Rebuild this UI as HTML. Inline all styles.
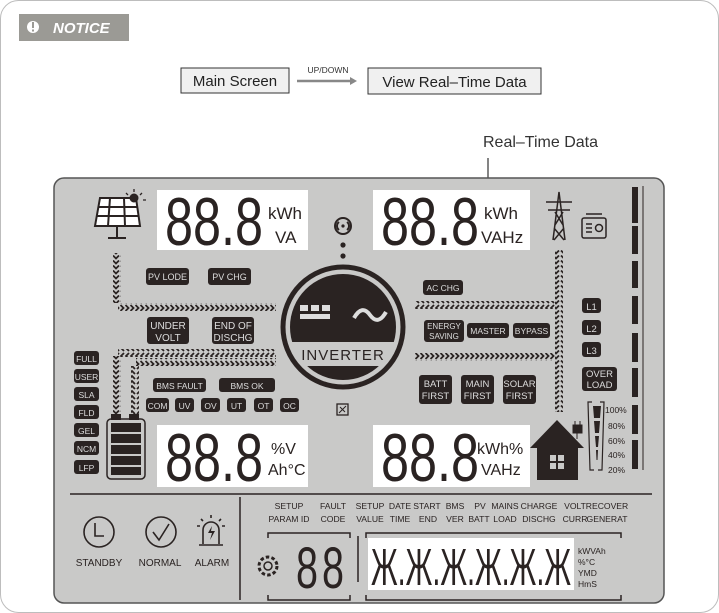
<!DOCTYPE html>
<html><head><meta charset="utf-8"><style>
html,body{margin:0;padding:0;background:#fff;}
svg{display:block;font-family:"Liberation Sans",sans-serif;}
</style></head><body>
<svg width="719" height="613" viewBox="0 0 719 613" xmlns="http://www.w3.org/2000/svg">
<defs>
<pattern id="chR" width="5" height="8" patternUnits="userSpaceOnUse"><path d="M0.5,1 L3.5,4 L0.5,7" fill="none" stroke="#2a2322" stroke-width="1.8"/></pattern>
<pattern id="chL" width="5" height="8" patternUnits="userSpaceOnUse"><path d="M4,1 L1,4 L4,7" fill="none" stroke="#2a2322" stroke-width="1.8"/></pattern>
<pattern id="chD" width="8" height="5" patternUnits="userSpaceOnUse"><path d="M1,0.5 L4,3.5 L7,0.5" fill="none" stroke="#2a2322" stroke-width="1.8"/></pattern>
<pattern id="chU" width="8" height="5" patternUnits="userSpaceOnUse"><path d="M1,4 L4,1 L7,4" fill="none" stroke="#2a2322" stroke-width="1.8"/></pattern>
</defs>
<rect x="0.5" y="0.5" width="718" height="612" rx="18" fill="#fff" stroke="#bdbdbd"/>
<rect x="19" y="14" width="110" height="27" fill="#9b9a95"/>
<circle cx="33" cy="27" r="6" fill="#fff"/><rect x="32" y="22" width="2" height="6" fill="#9b9a95"/><rect x="32" y="29.5" width="2" height="2" fill="#9b9a95"/>
<text x="53" y="33" font-size="15" font-weight="bold" font-style="italic" fill="#fff">NOTICE</text>
<rect x="181" y="68" width="108" height="25" fill="#f0f0f0" stroke="#333"/>
<text x="235" y="86" font-size="15" text-anchor="middle" fill="#222">Main Screen</text>
<text x="328" y="73" font-size="8.5" text-anchor="middle" fill="#333">UP/DOWN</text>
<path d="M297,81 H352" stroke="#888" stroke-width="2.5"/><path d="M350,77 L357,81 L350,85Z" fill="#888"/>
<rect x="368" y="68" width="173" height="26" fill="#f0f0f0" stroke="#333"/>
<text x="454.5" y="87" font-size="15" text-anchor="middle" fill="#222">View Real–Time Data</text>
<text x="483" y="147" font-size="16" fill="#333">Real–Time Data</text>
<path d="M488,158 V192" stroke="#333" stroke-width="1.2"/>
<rect x="54" y="178" width="610" height="425" rx="10" fill="#c9c9c8" stroke="#555" stroke-width="1.5"/>
<g fill="#2a2322">
<rect x="157" y="190" width="151" height="60" fill="#fff"/>
<text x="165" y="245" font-size="68" textLength="98" lengthAdjust="spacingAndGlyphs">88.8</text>
<text x="268" y="219" font-size="17">kWh</text>
<text x="275" y="243" font-size="17">VA</text>
<rect x="373" y="190" width="157" height="60" fill="#fff"/>
<text x="381" y="245" font-size="68" textLength="98" lengthAdjust="spacingAndGlyphs">88.8</text>
<text x="484" y="219" font-size="17">kWh</text>
<text x="481" y="243" font-size="17">VAHz</text>
<rect x="157" y="425" width="151" height="62" fill="#fff"/>
<text x="165" y="481" font-size="68" textLength="98" lengthAdjust="spacingAndGlyphs">88.8</text>
<text x="271" y="454" font-size="16">%V</text>
<text x="268" y="475" font-size="16">Ah°C</text>
<rect x="373" y="425" width="157" height="62" fill="#fff"/>
<text x="381" y="481" font-size="68" textLength="98" lengthAdjust="spacingAndGlyphs">88.8</text>
<text x="477" y="454" font-size="16">kWh%</text>
<text x="481" y="475" font-size="16">VAHz</text>
</g>
<g fill="#2a2322" stroke="#2a2322">
<path d="M100,198 L136,198 L140,226 L95,226Z" fill="#fff" stroke-width="2"/>
<path d="M98,207 H138 M97,216 H139 M110,198 L108,226 M124,198 L125,226" stroke-width="2"/>
<path d="M117,226 V237 M108,238 H126" stroke-width="2"/>
<circle cx="134" cy="198" r="4" fill="#2a2322"/>
<path d="M134,189 V192 M126,193 L128,195 M142,193 L140,195 M143,200 H146" stroke-width="1.3"/>
</g>
<g stroke="#2a2322" fill="none" stroke-width="2"><circle cx="343" cy="226" r="8"/><path d="M339,222 a5,5 0 0 0 0,8 M347,222 a5,5 0 0 1 0,8"/></g>
<circle cx="343" cy="226" r="1.6" fill="#2a2322"/>
<circle cx="343" cy="245" r="2.6" fill="#2a2322"/><circle cx="343" cy="256" r="2.6" fill="#2a2322"/>
<rect x="113" y="253" width="8" height="50" fill="url(#chD)"/>
<rect x="118" y="303" width="158" height="8" fill="url(#chR)"/>
<rect x="118" y="349" width="158" height="8" fill="url(#chL)"/>
<rect x="136" y="358" width="140" height="8" fill="url(#chR)"/>
<rect x="113" y="356" width="8" height="58" fill="url(#chD)"/>
<rect x="131" y="366" width="8" height="48" fill="url(#chU)"/>
<rect x="415" y="301" width="140" height="8" fill="url(#chL)"/>
<rect x="415" y="353" width="140" height="8" fill="url(#chR)"/>
<rect x="555" y="250" width="8" height="162" fill="url(#chD)"/>
<circle cx="343" cy="327" r="60" fill="#c9c9c8" stroke="#2a2322" stroke-width="5"/>
<clipPath id="cc"><circle cx="343" cy="327" r="53"/></clipPath>
<g clip-path="url(#cc)">
<rect x="280" y="270" width="130" height="72" fill="#2a2322"/>
<rect x="280" y="366" width="130" height="30" fill="#2a2322"/>
</g>
<rect x="300" y="305" width="8" height="6" fill="#ddd"/><rect x="311" y="305" width="8" height="6" fill="#ddd"/><rect x="322" y="305" width="8" height="6" fill="#ddd"/>
<rect x="300" y="314" width="30" height="5" fill="#ddd"/>
<path d="M354,318 q8,-14 16,-3 t16,-3" fill="none" stroke="#ddd" stroke-width="4"/>
<text x="343" y="360" font-size="15" text-anchor="middle" fill="#2a2322" letter-spacing="1">INVERTER</text>
<rect x="337" y="404" width="11" height="11" fill="none" stroke="#2a2322" stroke-width="1.3"/><path d="M339,413 L346,406 M340,407 L345,412" stroke="#2a2322"/>
<g fill="#2a2322">
<rect x="146" y="268" width="43" height="17" rx="3"/><rect x="208" y="268" width="43" height="17" rx="3"/>
<rect x="147" y="317" width="42" height="27" rx="3"/><rect x="212" y="317" width="42" height="27" rx="3"/>
<rect x="74" y="351" width="25" height="14" rx="3"/><rect x="74" y="369" width="25" height="14" rx="3"/><rect x="74" y="387" width="25" height="14" rx="3"/><rect x="74" y="405" width="25" height="14" rx="3"/><rect x="74" y="423" width="25" height="14" rx="3"/><rect x="74" y="441" width="25" height="14" rx="3"/><rect x="74" y="460" width="25" height="14" rx="3"/>
<rect x="153" y="378" width="53" height="14" rx="3"/><rect x="219" y="378" width="56" height="14" rx="3"/>
<rect x="146" y="398" width="23" height="14" rx="3"/><rect x="175" y="398" width="19" height="14" rx="3"/><rect x="201" y="398" width="19" height="14" rx="3"/><rect x="227" y="398" width="19" height="14" rx="3"/><rect x="254" y="398" width="19" height="14" rx="3"/><rect x="280" y="398" width="19" height="14" rx="3"/>
<rect x="423" y="280" width="40" height="15" rx="3"/>
<rect x="424" y="320" width="40" height="22" rx="3"/><rect x="467" y="323" width="42" height="15" rx="3"/><rect x="513" y="323" width="37" height="15" rx="3"/>
<rect x="419" y="375" width="33" height="29" rx="3"/><rect x="461" y="375" width="33" height="29" rx="3"/><rect x="503" y="375" width="33" height="29" rx="3"/>
<rect x="582" y="298" width="19" height="15" rx="3"/><rect x="582" y="320" width="19" height="15" rx="3"/><rect x="582" y="342" width="19" height="15" rx="3"/>
<rect x="582" y="367" width="35" height="24" rx="3"/>
</g>
<g fill="#ddd" font-size="9" text-anchor="middle">
<text x="167.5" y="280">PV LODE</text><text x="229.5" y="280">PV CHG</text>
<text x="168" y="329" font-size="10">UNDER</text><text x="168" y="341" font-size="10">VOLT</text>
<text x="233" y="329" font-size="10">END OF</text><text x="233" y="341" font-size="10">DISCHG</text>
<g font-size="8.5"><text x="86.5" y="362">FULL</text><text x="86.5" y="380">USER</text><text x="86.5" y="398">SLA</text><text x="86.5" y="416">FLD</text><text x="86.5" y="434">GEL</text><text x="86.5" y="452">NCM</text><text x="86.5" y="471">LFP</text>
<text x="179.5" y="389">BMS FAULT</text><text x="247" y="389">BMS OK</text>
<text x="157.5" y="409">COM</text><text x="184.5" y="409">UV</text><text x="210.5" y="409">OV</text><text x="236.5" y="409">UT</text><text x="263.5" y="409">OT</text><text x="289.5" y="409">OC</text>
<text x="443" y="291">AC CHG</text>
<text x="444" y="329" font-size="8">ENERGY</text><text x="444" y="339" font-size="8">SAVING</text>
<text x="488" y="334">MASTER</text><text x="531.5" y="334">BYPASS</text></g>
<g font-size="9.5"><text x="435.5" y="387">BATT</text><text x="435.5" y="399">FIRST</text><text x="477.5" y="387">MAIN</text><text x="477.5" y="399">FIRST</text><text x="519.5" y="387">SOLAR</text><text x="519.5" y="399">FIRST</text>
<text x="591.5" y="310">L1</text><text x="591.5" y="332">L2</text><text x="591.5" y="354">L3</text>
<text x="599.5" y="377">OVER</text><text x="599.5" y="388">LOAD</text></g>
</g>
<rect x="111" y="414" width="10" height="6" fill="#2a2322"/><rect x="129" y="414" width="10" height="6" fill="#2a2322"/>
<rect x="107" y="419" width="38" height="60" rx="4" fill="none" stroke="#2a2322" stroke-width="1.5"/>
<g fill="#2a2322"><rect x="111" y="423" width="30" height="9"/><rect x="111" y="434" width="30" height="9"/><rect x="111" y="445" width="30" height="9"/><rect x="111" y="456" width="30" height="9"/><rect x="111" y="467" width="30" height="8"/></g>
<g stroke="#2a2322" fill="none" stroke-width="1.5">
<path d="M553,240 L559,192 L565,240 M546,202 H572 M548,210 H570 M555,212 L563,225 M563,212 L555,225 M554,228 L564,240 M564,228 L554,240"/>
<rect x="582" y="218" width="24" height="20" rx="2"/><path d="M586,214 H602 M586,224 H592 M586,228 H592 M586,232 H592"/><circle cx="599" cy="228" r="3.5"/>
</g>
<path d="M530,448 L557,420 L584,448 L578,448 L578,480 L537,480 L537,448Z" fill="#2a2322"/>
<rect x="550" y="455" width="14" height="14" fill="#c9c9c8"/><path d="M557,455 V469 M550,462 H564" stroke="#2a2322" stroke-width="2"/>
<path d="M573,425 h9 v8 h-9z M575,421 v4 M580,421 v4 M577,433 v6" stroke="#2a2322" fill="#2a2322"/>
<path d="M592,402 L588,402 L590,470 L594,470 M600,402 L604,402 L602,470 L598,470" stroke="#2a2322" fill="none" stroke-width="1.2"/>
<path d="M593,406 H601 L600,418 H594Z M594,421 H600 L599,433 H595Z M595,436 H599 L598,447 H596Z M596,450 H598 L597.5,460 H596.5Z" fill="#2a2322"/>
<g font-size="8.5" fill="#2a2322"><text x="605" y="413">100%</text><text x="608" y="429">80%</text><text x="608" y="444">60%</text><text x="608" y="458">40%</text><text x="608" y="473">20%</text></g>
<g fill="#2a2322"><rect x="632" y="187" width="6" height="36"/><rect x="632" y="226" width="6" height="28"/><rect x="632" y="261" width="6" height="27"/><rect x="632" y="296" width="6" height="28"/><rect x="632" y="333" width="6" height="29"/><rect x="632" y="368" width="6" height="29"/><rect x="632" y="405" width="6" height="29"/><rect x="632" y="440" width="6" height="29"/></g>
<path d="M643,186 V470" stroke="#2a2322" stroke-width="1"/>
<path d="M70,494 H652 M240,497 V600" stroke="#2a2322" stroke-width="1.5"/>
<g stroke="#2a2322" fill="none" stroke-width="1.6">
<circle cx="99" cy="532" r="15"/><path d="M95,523 V536 H104"/>
<circle cx="161" cy="532" r="15"/><path d="M153,532 L159,540 L169,524"/>
<path d="M203,544 V530 a8,8 0 0 1 16,0 V544 M199,545 H223 M211,515 V518 M201,519 L203,521 M221,519 L219,521 M197,526 H200 M222,526 H225"/>
</g>
<path d="M212,526 L208,533 H212 L210,540 L215,531 H211Z" fill="#2a2322"/>
<g font-size="10" fill="#2a2322" text-anchor="middle"><text x="99" y="566">STANDBY</text><text x="160" y="566">NORMAL</text><text x="212" y="566">ALARM</text></g>
<g font-size="8.6" fill="#2a2322" text-anchor="middle">
<text x="289" y="509">SETUP</text><text x="289" y="522">PARAM ID</text>
<text x="333" y="509">FAULT</text><text x="333" y="522">CODE</text>
<text x="370" y="509">SETUP</text><text x="370" y="522">VALUE</text>
<text x="400" y="509">DATE</text><text x="400" y="522">TIME</text>
<text x="427" y="509">START</text><text x="428" y="522">END</text>
<text x="455" y="509">BMS</text><text x="455" y="522">VER</text>
<text x="480" y="509">PV</text><text x="479" y="522">BATT</text>
<text x="505" y="509">MAINS</text><text x="505" y="522">LOAD</text>
<text x="539" y="509">CHARGE</text><text x="539" y="522">DISCHG</text>
<text x="575" y="509">VOLT</text><text x="575" y="522">CURR</text>
<text x="607" y="509">RECOVER</text><text x="607" y="522">GENERAT</text>
</g>
<g stroke="#2a2322" fill="none" stroke-width="1.5">
<path d="M268,538 V533 H350 V538 M268,595 V600 H350 V595"/>
<path d="M358,536 V582"/>
<path d="M366,538 V533 H621 V538 M366,595 V600 H621 V595"/>
<circle cx="268" cy="566" r="4"/><circle cx="268" cy="566" r="9" stroke-dasharray="3.5 2.2" stroke-width="3"/>
</g>
<text x="296" y="588" font-size="58" fill="#2a2322" textLength="22" lengthAdjust="spacingAndGlyphs">8</text>
<text x="322" y="588" font-size="58" fill="#2a2322" textLength="22" lengthAdjust="spacingAndGlyphs">8</text>
<rect x="368" y="538" width="206" height="52" fill="#fff"/>
<text x="371" y="585" font-size="52" fill="#2a2322" textLength="200" lengthAdjust="spacingAndGlyphs">Ж.Ж.Ж.Ж.Ж.Ж</text>
<g font-size="8.5" fill="#2a2322"><text x="578" y="554">kWVAh</text><text x="578" y="565">%°C</text><text x="578" y="576">YMD</text><text x="578" y="587">HmS</text></g>
</svg>
</body></html>
